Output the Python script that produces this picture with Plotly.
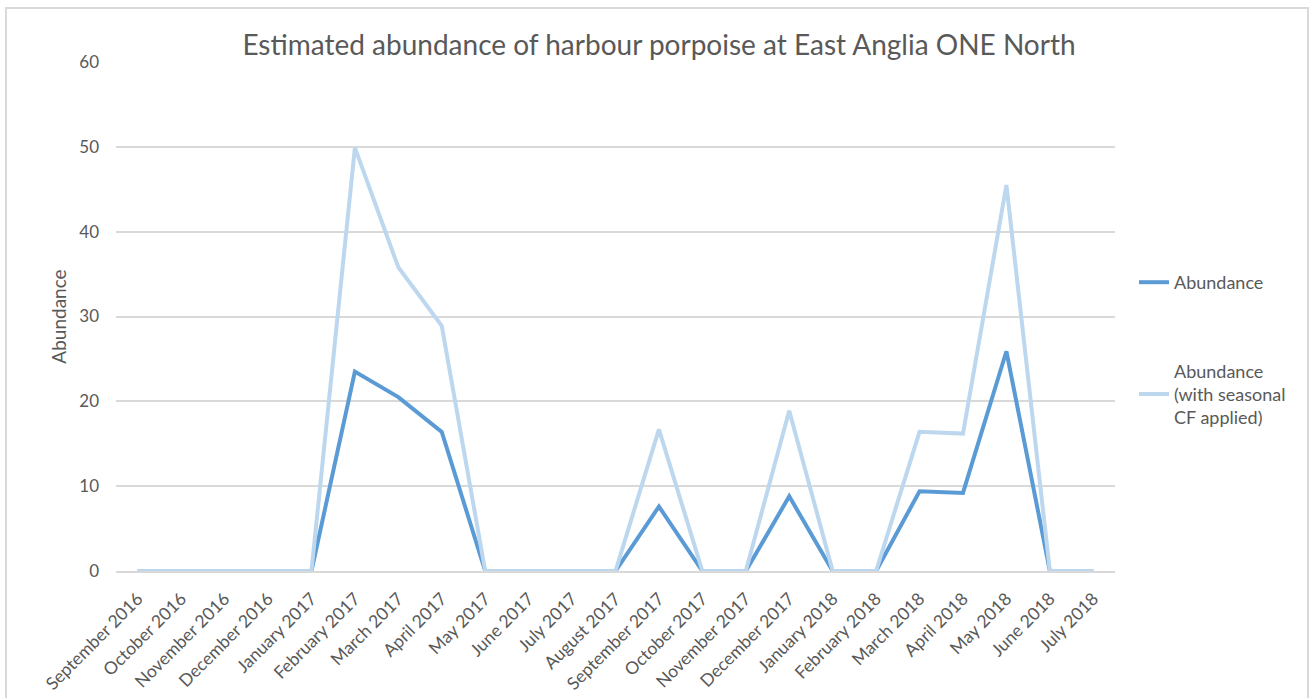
import plotly.graph_objects as go

months = ["September 2016", "October 2016", "November 2016", "December 2016", "January 2017",
          "February 2017", "March 2017", "April 2017", "May 2017", "June 2017", "July 2017",
          "August 2017", "September 2017", "October 2017", "November 2017", "December 2017",
          "January 2018", "February 2018", "March 2018", "April 2018", "May 2018", "June 2018",
          "July 2018"]
abundance = [0, 0, 0, 0, 0, 23.5, 20.5, 16.4, 0, 0, 0, 0, 7.6, 0, 0, 8.8, 0, 0, 9.4, 9.2, 25.9, 0, 0]
abundance_cf = [0, 0, 0, 0, 0, 49.9, 35.8, 28.9, 0, 0, 0, 0, 16.7, 0, 0, 18.9, 0, 0, 16.4, 16.2, 45.5, 0, 0]
yticks = [0, 10, 20, 30, 40, 50, 60]

FONT = "Lato, Open Sans, sans-serif"
GREY = "#595959"

fig = go.Figure()
fig.add_trace(go.Scatter(x=months, y=abundance, mode="lines", name="Abundance",
                         line=dict(color="#5b9bd5", width=4), legendgroup="a"))
fig.add_trace(go.Scatter(x=months, y=abundance_cf, mode="lines",
                         name="Abundance<br>(with seasonal<br>CF applied)",
                         line=dict(color="#bdd7ee", width=4), legendgroup="b"))

W, H = 1314, 698
L, R, T, B = 116, 199, 62, 127
pw, ph = W - L - R, H - T - B

fig.update_layout(
    width=W, height=H,
    margin=dict(l=L, r=R, t=T, b=B, autoexpand=False),
    paper_bgcolor="white", plot_bgcolor="white",
    font=dict(family=FONT, color=GREY, size=15),
    title=dict(text="Estimated abundance of harbour porpoise at East Anglia ONE North",
               x=(659 - L) / pw, xref="paper", xanchor="center",
               y=1 - 45 / H, yanchor="middle",
               font=dict(size=28, color=GREY, family=FONT)),
    xaxis=dict(type="category", categoryorder="array", categoryarray=months,
               range=[-0.5, len(months) - 0.5], tickangle=-45, automargin=False,
               showgrid=False, showline=True, linecolor="#d9d9d9", linewidth=1.5,
               ticks="", tickfont=dict(size=17.5, color=GREY), zeroline=False,
               ticklabelstandoff=9),
    yaxis=dict(range=[0, 60], tickvals=yticks, showgrid=True, gridcolor="#d9d9d9",
               gridwidth=1.5, zeroline=False, showline=False, ticks="", automargin=False,
               tickfont=dict(size=17, color=GREY), ticklabelstandoff=16,
               title=dict(text="Abundance", font=dict(size=19, color=GREY), standoff=7)),
    legend=dict(x=(1134 - L) / pw, xanchor="left", y=1 - (264 - T) / ph, yanchor="top",
                font=dict(size=18, color=GREY), tracegroupgap=62,
                traceorder="grouped", bgcolor="rgba(0,0,0,0)"),
    shapes=[dict(type="rect", xref="paper", yref="paper",
                 x0=(6 - L) / pw, x1=(1308 - L) / pw,
                 y0=1 - (720 - T) / ph, y1=1 + (T - 8) / ph,
                 line=dict(color="#d9d9d9", width=2), fillcolor="rgba(0,0,0,0)", layer="below")],
)

fig.write_html("out.html", config={"displayModeBar": False},
               post_script="document.body.style.margin='0';")
